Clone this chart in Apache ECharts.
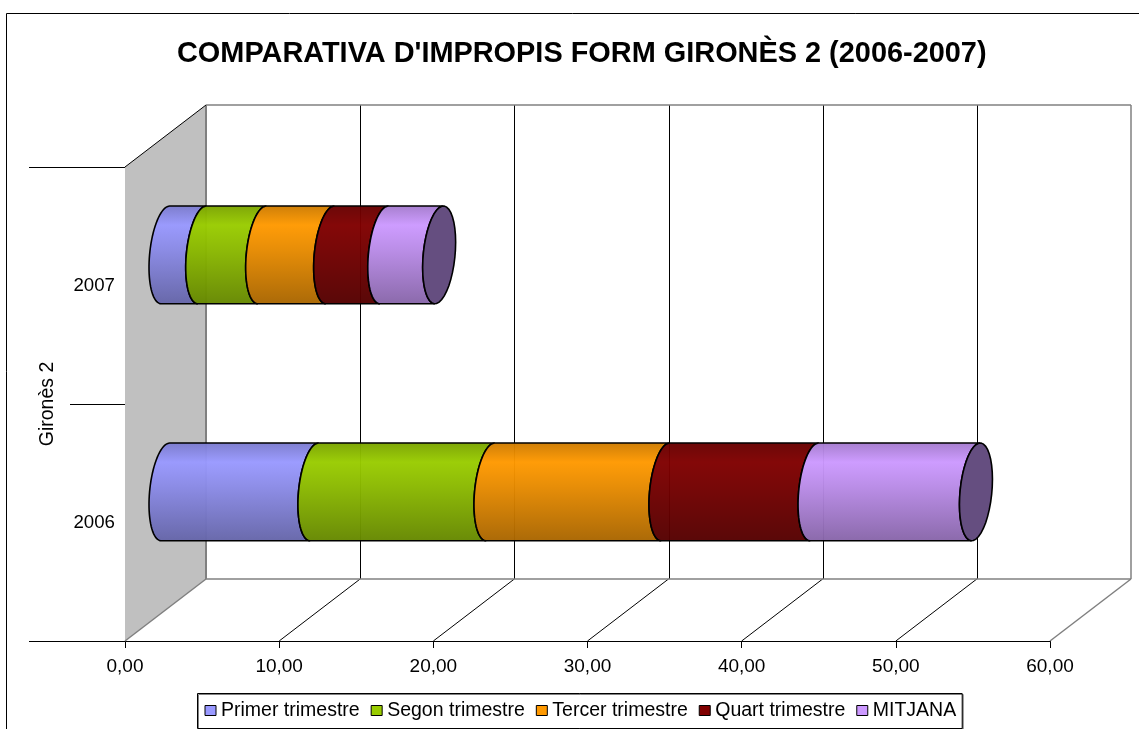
<!DOCTYPE html>
<html>
<head>
<meta charset="utf-8">
<style>html,body{margin:0;padding:0;background:#fff}#c{width:1139px;height:729px}</style>
<script src="https://cdn.jsdelivr.net/npm/echarts@6/dist/echarts.min.js"></script>
</head>
<body>
<div id="c"></div>
<script>
const titleText = "COMPARATIVA D'IMPROPIS FORM GIRONÈS 2 (2006-2007)";
const categories = ['2006', '2007'];
const seriesNames = ['Primer trimestre', 'Segon trimestre', 'Tercer trimestre', 'Quart trimestre', 'MITJANA'];
const primer = [9.66, 2.38];
const segon = [11.42, 3.89];
const tercer = [11.35, 4.41];
const quart = [9.67, 3.51];
const mitjana = [10.47, 3.56];
const seriesValues = [primer, segon, tercer, quart, mitjana];
const seriesColors = ['#9999FF', '#99CC00', '#FF9900', '#800000', '#CC99FF'];
const capColor = '#654E80';
const xTicks = [0, 10, 20, 30, 40, 50, 60];
const yAxisName = 'Gironès 2';

// projection constants of the pseudo-3D box
const DX = 81, DY = -62;
const RX = 16.5, RV = 47.2, RD = 12.6;
const T0 = Math.atan(RD / RV);
const FILL_ALPHA = 0.97;

function shade(hex, f) {
  const n = parseInt(hex.slice(1), 16);
  const c = [(n >> 16) & 255, (n >> 8) & 255, n & 255].map(v => Math.round(v * f));
  return 'rgba(' + c.join(',') + ',' + FILL_ALPHA + ')';
}
function arc(cx, cy, from, to) {
  const pts = [];
  const N = 40;
  for (let i = 0; i <= N; i++) {
    const t = from + (to - from) * i / N;
    pts.push([cx + RX * Math.sin(t), cy - RV * Math.cos(t) - RD * Math.sin(t)]);
  }
  return pts;
}
const stackStart = seriesValues.map((vals, s) =>
  vals.map((_, c) => seriesValues.slice(0, s).reduce((a, arr) => a + arr[c], 0)));

function renderSegment(s) {
  return function (params, api) {
    const c = api.value(0);
    const p0 = api.coord([api.value(1), c]);
    const p1 = api.coord([api.value(2), c]);
    const cy = p0[1] + DY / 2 + 0.4;
    const x0 = p0[0] + DX / 2, x1 = p1[0] + DX / 2;
    const pts = arc(x0, cy, T0, T0 - Math.PI).concat(arc(x1, cy, T0 - Math.PI, T0));
    const col = seriesColors[s];
    const fill = new echarts.graphic.LinearGradient(0, 0, 0, 1, [
      { offset: 0, color: shade(col, 0.8) },
      { offset: 0.2, color: shade(col, 1) },
      { offset: 0.45, color: shade(col, 0.9) },
      { offset: 1, color: shade(col, 0.66) }
    ]);
    const children = [{
      type: 'polygon', shape: { points: pts },
      style: { fill: fill, stroke: '#000', lineWidth: 1.6 }
    }];
    if (s === seriesValues.length - 1) {
      children.push({
        type: 'polygon', shape: { points: arc(x1, cy, 0, Math.PI * 2) },
        style: { fill: capColor, stroke: '#000', lineWidth: 1.6 }
      });
    }
    return { type: 'group', children: children };
  };
}

function renderFrame(params, api) {
  const cs = params.coordSys;
  const top = cs.y, bottom = cs.y + cs.height, left = cs.x, right = cs.x + cs.width;
  const line = (x1, y1, x2, y2, stroke, w) => ({
    type: 'line', shape: { x1, y1, x2, y2 }, style: { stroke, lineWidth: w }
  });
  const ch = [];
  ch.push({
    type: 'polygon',
    shape: { points: [[left, top], [left + DX, top + DY], [left + DX, bottom + DY], [left, bottom]] },
    style: { fill: '#C0C0C0' }
  });
  xTicks.forEach((v, i) => {
    const x = api.coord([v, 0])[0];
    if (i > 0 && i < xTicks.length - 1) {
      const bx = Math.round(x + DX) + .5;
      ch.push(line(bx, top + DY, bx, bottom + DY, '#000', 1));
      ch.push(line(x, bottom, x + DX, bottom + DY, '#000', 1));
    }
  });
  const G = '#808080';
  ch.push(line(left + DX, top + DY, right + DX, top + DY, G, 1.5));
  ch.push(line(left + DX, bottom + DY, right + DX, bottom + DY, G, 1.5));
  ch.push(line(left + DX, top + DY, left + DX, bottom + DY, G, 2));
  ch.push(line(right + DX, top + DY, right + DX, bottom + DY, G, 1.5));
  ch.push(line(left, bottom, left + DX, bottom + DY, G, 1.5));
  ch.push(line(right, bottom, right + DX, bottom + DY, G, 1.5));
  ch.push(line(left, top, left + DX, top + DY, '#000', 1));
  // outer axis ticks are longer than the middle one
  ch.push(line(left - 96, top + .5, left, top + .5, '#000', 1));
  ch.push(line(left - 96, bottom + .5, left, bottom + .5, '#000', 1));
  return { type: 'group', children: ch };
}

const chart = echarts.init(document.getElementById('c'), null, { renderer: 'canvas' });
const FONT = '"Liberation Sans", Arial, sans-serif';
chart.setOption({
  animation: false,
  backgroundColor: '#fff',
  title: {
    text: titleText, left: 177, top: 40, padding: 0,
    textStyle: { fontFamily: FONT, fontSize: 28.9, fontWeight: 'bold', color: '#000' }
  },
  grid: { left: 125, right: 89, top: 167, bottom: 88, containLabel: false },
  xAxis: {
    type: 'value', min: 0, max: 60, interval: 10,
    splitLine: { show: false },
    axisLine: { show: true, onZero: false, lineStyle: { color: '#000', width: 1 } },
    axisTick: { show: true, length: 7, lineStyle: { color: '#000' } },
    axisLabel: {
      margin: 16, color: '#000', fontFamily: FONT, fontSize: 19,
      formatter: v => v.toFixed(2).replace('.', ',')
    }
  },
  yAxis: {
    type: 'category', data: categories,
    name: yAxisName, nameLocation: 'middle', nameGap: 67.5, nameRotate: 90,
    nameTextStyle: { color: '#000', fontFamily: FONT, fontSize: 19.5 },
    axisLine: { show: true, lineStyle: { color: '#000', width: 1 } },
    axisTick: { show: true, length: 55, lineStyle: { color: '#000' } },
    axisLabel: { margin: 10, color: '#000', fontFamily: FONT, fontSize: 18.67 },
    splitLine: { show: false }
  },
  legend: {
    data: seriesNames, left: 197.5, top: 693.5, padding: [7, 6, 8, 7], itemGap: 11,
    itemWidth: 11, itemHeight: 10, icon: 'rect',
    backgroundColor: '#fff', borderColor: '#000', borderWidth: 1,
    shadowColor: '#808080', shadowOffsetX: 1, shadowOffsetY: 1, shadowBlur: 0,
    itemStyle: { borderColor: '#000', borderWidth: 1 },
    textStyle: { color: '#000', fontFamily: FONT, fontSize: 19.5, padding: [1, 0, 0, 0] },
    selectedMode: false
  },
  graphic: [{
    type: 'polyline', silent: true, z: 0,
    shape: { points: [[6.5, 729], [6.5, 13.5], [1139, 13.5]] },
    style: { stroke: '#000', lineWidth: 1, fill: null }
  }],
  series: [{
    type: 'custom', z: 1, silent: true, renderItem: renderFrame, data: [[0, 0]],
    encode: { x: 0, y: 1 }
  }].concat(seriesNames.map((name, s) => ({
    type: 'custom', name: name, z: 2 + s,
    itemStyle: { color: seriesColors[s] },
    renderItem: renderSegment(s),
    data: categories.map((_, c) => [c, stackStart[s][c], stackStart[s][c] + seriesValues[s][c]]),
    encode: { x: [1, 2], y: 0 }
  })))
});
</script>
</body>
</html>
